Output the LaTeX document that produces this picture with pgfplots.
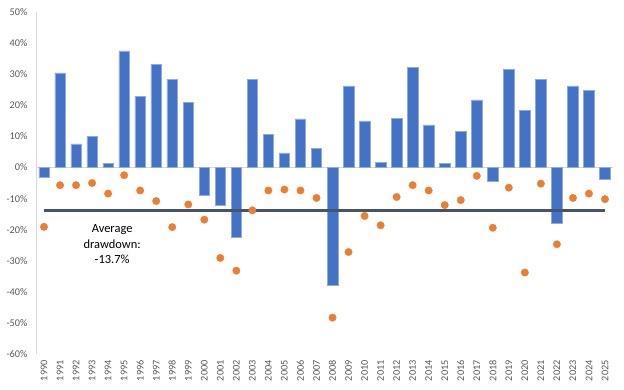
\documentclass[border=0pt]{standalone}
\usepackage{pgfplots}
\pgfplotsset{compat=1.18}
\usepackage{pgfplotstable}
\usepackage{fontspec}
\setmainfont{Carlito}
\definecolor{barblue}{HTML}{4472C4}
\definecolor{baredge}{HTML}{8FAADC}
\definecolor{dotorange}{HTML}{ED7D31}
\definecolor{avgline}{HTML}{44546A}
\definecolor{ticktext}{HTML}{595959}
\definecolor{axisgray}{HTML}{D9D9D9}

\pgfplotstableread{
year ret dd
1990 -3.2 -19.1
1991 30.4 -5.7
1992 7.6 -5.7
1993 10.0 -5.0
1994 1.2 -8.4
1995 37.5 -2.5
1996 22.9 -7.4
1997 33.2 -10.8
1998 28.4 -19.2
1999 21.0 -11.9
2000 -9.0 -16.8
2001 -12.2 -29.1
2002 -22.3 -33.2
2003 28.4 -13.8
2004 10.6 -7.4
2005 4.7 -7.1
2006 15.6 -7.4
2007 6.1 -9.8
2008 -37.8 -48.3
2009 26.2 -27.2
2010 15.0 -15.6
2011 1.7 -18.6
2012 15.8 -9.5
2013 32.3 -5.7
2014 13.7 -7.4
2015 1.2 -12.1
2016 11.6 -10.5
2017 21.7 -2.7
2018 -4.5 -19.4
2019 31.5 -6.5
2020 18.3 -33.8
2021 28.4 -5.2
2022 -18.1 -24.7
2023 26.2 -9.8
2024 24.9 -8.4
2025 -3.8 -10.2
}\data

\begin{document}
\begin{tikzpicture}
\begin{axis}[
  scale only axis,
  width=577bp, height=342bp,
  xmin=1989.5, xmax=2025.5,
  ymin=-60, ymax=50,
  axis x line*=bottom, axis y line*=left,
  x axis line style={draw=none},
  y axis line style={draw=axisgray, line width=0.8bp},
  major tick length=0,
  ytick={-60,-50,-40,-30,-20,-10,0,10,20,30,40,50},
  yticklabels={-60\%,-50\%,-40\%,-30\%,-20\%,-10\%,0\%,10\%,20\%,30\%,40\%,50\%},
  xtick={1990,1991,...,2025},
  xticklabels={1990,1991,1992,1993,1994,1995,1996,1997,1998,1999,2000,2001,2002,2003,2004,2005,2006,2007,2008,2009,2010,2011,2012,2013,2014,2015,2016,2017,2018,2019,2020,2021,2022,2023,2024,2025},
  tick label style={color=ticktext, font=\fontsize{10.3}{12}\selectfont},
  yticklabel style={xshift=-5bp},
  xticklabel style={rotate=90, anchor=east, inner xsep=6bp},
]
\addplot[axisgray, line width=1bp, forget plot] coordinates {(1989.5,0) (2025.5,0)};
\addplot[ybar, bar width=10.5bp, fill=barblue, draw=baredge, line width=0.5bp] table[x=year, y=ret]{\data};
\addplot[avgline, line width=3bp] coordinates {(1990,-13.7) (2025,-13.7)};
\addplot[only marks, mark=*, mark size=3.7bp, color=dotorange, mark options={fill=dotorange, draw=dotorange}] table[x=year, y=dd]{\data};
\node[align=center, font=\fontsize{12.5}{15.5}\selectfont, text=black] at (axis cs:1994.25,-24.7) {Average\\drawdown:\\-13.7\%};
\end{axis}
\pgfresetboundingbox
\path[use as bounding box] ([xshift=-36bp,yshift=-36bp]current axis.south west) rectangle ([xshift=11bp,yshift=12bp]current axis.north east);
\end{tikzpicture}
\end{document}
